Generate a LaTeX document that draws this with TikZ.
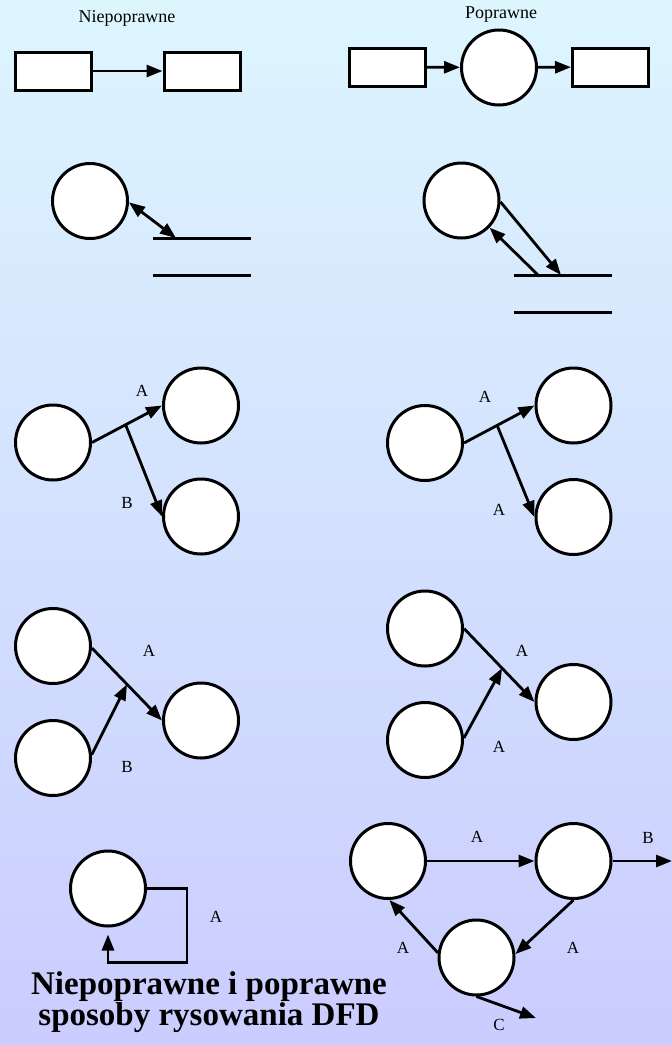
\documentclass[tikz,border=0pt]{standalone}
\usepackage{fontspec}
\setmainfont{Liberation Serif}
\usepackage{tikz}
\usetikzlibrary{arrows.meta,positioning,calc}
\definecolor{skytop}{HTML}{DDF6FE}
\definecolor{lavbot}{HTML}{CACCFE}
\tikzset{
  proc/.style={circle, draw=black, fill=white, line width=3pt, minimum size=75pt, inner sep=0pt},
  ext/.style={rectangle, draw=black, fill=white, line width=3pt, minimum width=76pt, minimum height=38pt, inner sep=0pt},
  store/.style={draw=black, line width=3pt},
  flow/.style={-{Triangle[length=16pt,width=12pt]}, draw=black, line width=2.8pt},
  biflow/.style={{Triangle[length=16pt,width=12pt]}-{Triangle[length=16pt,width=12pt]}, draw=black, line width=2.8pt},
  lbl/.style={font=\fontsize{17}{20}\selectfont, inner sep=0pt},
  head/.style={font=\fontsize{18}{22}\selectfont, inner sep=0pt, anchor=base}
}

\begin{document}
\begin{tikzpicture}[x=1pt, y=-1pt]
  \useasboundingbox (0,0) rectangle (672,1045);
  \shade[top color=skytop, bottom color=lavbot] (0,0) rectangle (672,1045);

  % headings
  \node[head] (hbad) at (127,22) {Niepoprawne};
  \node[head] (hgood) at (501,18) {Poprawne};

  % row 1: external to external
  \node[ext] (e1) at (53,71) {};
  \node[ext] (e2) at (202,71) {};
  \draw[flow] (e1) -- (e2);
  \node[ext] (e3) at (387.5,67) {};
  \node[proc] (p1) at (499,67.5) {};
  \node[ext] (e4) at (610.5,67) {};
  \draw[flow] (e3) -- (p1);
  \draw[flow] (p1) -- (e4);

  % row 2: process and data store
  \node[proc] (p2) at (90,201) {};
  \coordinate (s1a) at (153,238); \coordinate (s1b) at (251,238);
  \coordinate (s1c) at (153,275); \coordinate (s1d) at (251,275);
  \draw[store] (s1a) -- (s1b); \draw[store] (s1c) -- (s1d);
  \coordinate (s1in) at (176,238);
  \draw[biflow] (p2.-2) -- (s1in);

  \node[proc] (p3) at (461.5,200.5) {};
  \coordinate (s2a) at (514,275); \coordinate (s2b) at (612,275);
  \coordinate (s2c) at (514,312); \coordinate (s2d) at (612,312);
  \draw[store] (s2a) -- (s2b); \draw[store] (s2c) -- (s2d);
  \coordinate (s2in) at (561,275); \coordinate (s2out) at (538,275);
  \draw[flow] (p3.-2) -- (s2in);
  \draw[flow] (s2out) -- (p3.-44);

  % row 3: split flow
  \node[proc] (p4) at (53,442.5) {};
  \node[proc] (p5) at (201,405.5) {};
  \node[proc] (p6) at (201,516.5) {};
  \coordinate (j1) at ($(p4.east)!0.48!(p5.west)$);
  \draw[flow] (p4.east) -- (p5.west);
  \draw[flow] (j1) -- (p6.west);
  \node[lbl] (l1) at (142,391) {A};
  \node[lbl] (l2) at (127,503) {B};

  \node[proc] (p7) at (425,443) {};
  \node[proc] (p8) at (573.5,405.5) {};
  \node[proc] (p9) at (573.5,517) {};
  \coordinate (j2) at ($(p7.east)!0.47!(p8.west)$);
  \draw[flow] (p7.east) -- (p8.west);
  \draw[flow] (j2) -- (p9.west);
  \node[lbl] (l3) at (485,397) {A};
  \node[lbl] (l4) at (499,510) {A};

  % row 4: joined flow
  \node[proc] (p10) at (53,646) {};
  \node[proc] (p11) at (53,758) {};
  \node[proc] (p12) at (201,720.5) {};
  \coordinate (j3) at ($(p10.-3)!0.5!(p12.west)$);
  \draw[flow] (p10.-3) -- (p12.west);
  \draw[flow] (p11.5) -- (j3);
  \node[lbl] (l5) at (149,651) {A};
  \node[lbl] (l6) at (127,767) {B};

  \node[proc] (p13) at (425,628.5) {};
  \node[proc] (p14) at (425,740) {};
  \node[proc] (p15) at (573.5,702) {};
  \coordinate (j4) at ($(p13.east)!0.54!(p15.west)$);
  \draw[flow] (p13.east) -- (p15.west);
  \draw[flow] (p14.3) -- (j4);
  \node[lbl] (l7) at (522,651) {A};
  \node[lbl] (l8) at (499,747) {A};

  % row 5: loop on itself / cycle through processes
  \node[proc] (p16) at (108,888.5) {};
  \draw[flow] (p16.east) -- ++(40,0) -- ++(0,74) -| ([yshift=-7pt]p16.south);
  \node[lbl] (l9) at (216,917) {A};

  \node[proc] (p17) at (388,861) {};
  \node[proc] (p18) at (573.5,861) {};
  \node[proc] (p19) at (476.5,957.5) {};
  \coordinate (outb) at (672,861);
  \coordinate (outc) at (536,1018);
  \draw[flow] (p17.east) -- (p18.west);
  \draw[flow] (p18.east) -- (outb);
  \draw[flow] (p18.south) -- (p19.5);
  \draw[flow] (p19.173) -- (p17.-88);
  \draw[flow] (p19.south) -- (outc);
  \node[lbl] (l10) at (477,837) {A};
  \node[lbl] (l11) at (648,838) {B};
  \node[lbl] (l12) at (573,948) {A};
  \node[lbl] (l13) at (403,948) {A};
  \node[lbl] (l14) at (499,1025) {C};

  % caption
  \node[font=\fontsize{33}{29}\selectfont\bfseries, align=center, inner sep=0pt] (title) at (209,1002)
    {Niepoprawne i poprawne\\sposoby rysowania DFD};
\end{tikzpicture}
\end{document}
